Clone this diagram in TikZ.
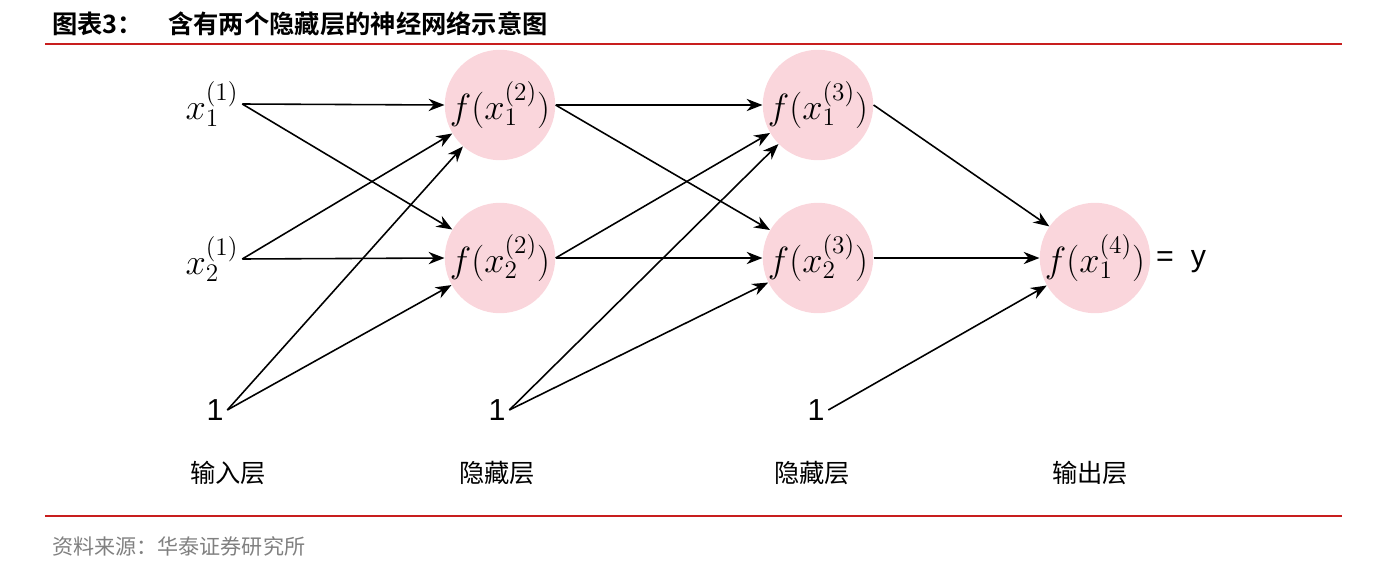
\documentclass[tikz,border=0pt]{standalone}
\usepackage{fontspec}
\newfontfamily\cjk{Noto Sans CJK SC}
\newfontfamily\cjkb{Noto Sans CJK SC Bold}
\newfontfamily\arial{Liberation Sans}
\usepackage{tikz}
\usetikzlibrary{arrows.meta}
\definecolor{neuronPink}{RGB}{250,214,220}
\definecolor{ruleRed}{RGB}{200,30,30}
\tikzset{
  neuron/.style={circle, minimum size=2.1cm, fill=neuronPink, inner sep=0pt, font=\huge},
  inputNode/.style={font=\huge, inner sep=2pt},
  oneNode/.style={font=\arial\LARGE, inner sep=2pt},
  layerLabel/.style={font=\cjk\Large},
  connector/.style={draw, -{Stealth[length=9pt,width=7pt]}, line width=0.9pt}
}
\begin{document}
\begin{tikzpicture}[x=0.02cm, y=-0.02cm]
\useasboundingbox (0,0) rectangle (1384,578);

\node[anchor=west, font=\cjkb\Large] at (46,24) (title) {图表3：\quad 含有两个隐藏层的神经网络示意图};
\draw[ruleRed, line width=1.2pt] (45,44) -- (1342,44);
\draw[ruleRed, line width=1.2pt] (45,516) -- (1342,516);
\node[anchor=west, font=\cjk\large, text=gray] at (46,546) (source) {资料来源：华泰证券研究所};

\node[inputNode] at (212,104) (inOne) {$x_1^{(1)}$};
\node[inputNode] at (212,259) (inTwo) {$x_2^{(1)}$};
\node[oneNode] at (215,410) (biasIn) {1};

\node[neuron] at (500,105) (hidOne) {$f(x_1^{(2)})$};
\node[neuron] at (500,258) (hidTwo) {$f(x_2^{(2)})$};
\node[oneNode] at (497,410) (biasHid) {1};

\node[neuron] at (818,105) (hidThree) {$f(x_1^{(3)})$};
\node[neuron] at (818,258) (hidFour) {$f(x_2^{(3)})$};
\node[oneNode] at (816,410) (biasHidTwo) {1};

\node[neuron] at (1095,258) (outNode) {$f(x_1^{(4)})$};
\node[anchor=west, font=\arial\LARGE] at (1150,262) (outY) {=\ \ y};

\node[layerLabel] at (228,473) (inLabel) {输入层};
\node[layerLabel] at (497,473) (hidLabel) {隐藏层};
\node[layerLabel] at (812,473) (hidLabelTwo) {隐藏层};
\node[layerLabel] at (1090,473) (outLabel) {输出层};

\path [connector] (inOne.east) -- (hidOne.west);
\path [connector] (inOne.east) -- (hidTwo);
\path [connector] (inTwo.east) -- (hidOne);
\path [connector] (inTwo.east) -- (hidTwo.west);
\path [connector] (biasIn.east) -- (hidOne);
\path [connector] (biasIn.east) -- (hidTwo);

\path [connector] (hidOne.east) -- (hidThree.west);
\path [connector] (hidOne.east) -- (hidFour);
\path [connector] (hidTwo.east) -- (hidThree);
\path [connector] (hidTwo.east) -- (hidFour.west);
\path [connector] (biasHid.east) -- (hidThree);
\path [connector] (biasHid.east) -- (hidFour);

\path [connector] (hidThree.east) -- (outNode);
\path [connector] (hidFour.east) -- (outNode.west);
\path [connector] (biasHidTwo.east) -- (outNode);

\end{tikzpicture}
\end{document}
